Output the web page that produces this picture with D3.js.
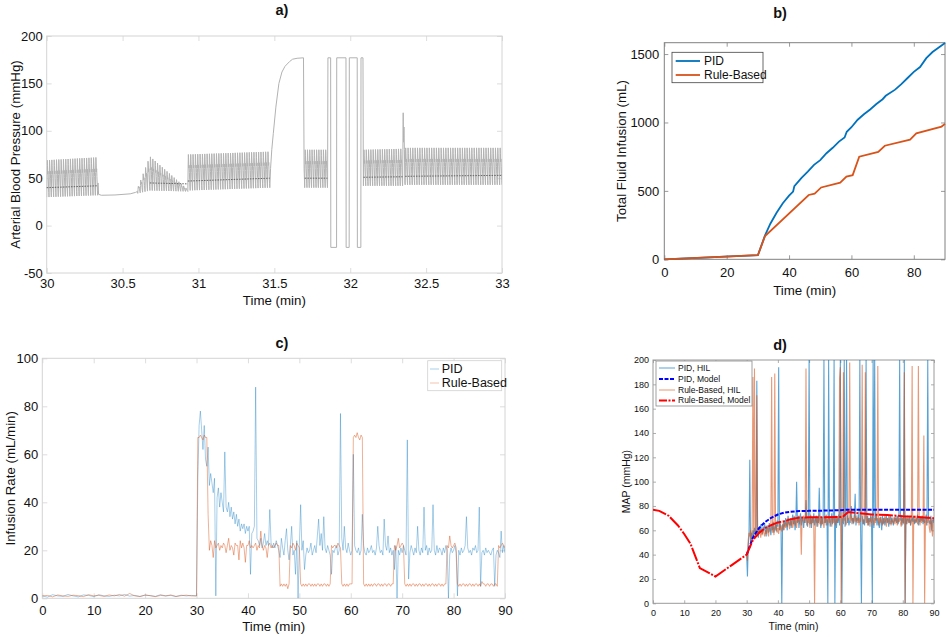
<!DOCTYPE html>
<html><head><meta charset="utf-8">
<script src="https://cdn.jsdelivr.net/npm/d3@7"></script>
<style>
body{margin:0;background:#fff;}
svg text{font-family:"Liberation Sans",Arial,Helvetica,sans-serif;}
</style></head><body>
<svg id="c" width="948" height="637"></svg>
<script>
// ---------------- Panel a: arterial blood pressure (30-33 min) ----------------
const abpXTicks=[30,30.5,31,31.5,32,32.5,33];
const abpYTicks=[-50,0,50,100,150,200];
// pulsatile segments: envelope of systolic / diastolic pressure and mean
const abpSegStart=[30.000,30.600,30.680,30.930,31.700,32.087,32.362];
const abpSegEnd  =[30.336,30.680,30.930,31.470,31.850,32.345,33.000];
const abpSysStart=[69,40,73,75,80,80,82];
const abpSysEnd  =[72,73,38,78,80,81,82];
const abpDiaStart=[30,34,37,37,40,42,43];
const abpDiaEnd  =[32,37,36,40,40,42,43];
const abpMeanStart=[40,null,45,47,50,51,52];
const abpMeanEnd  =[42,null,44,50,50,51.5,53];
const pulseShape=[0,0.6,1,0.85,0.62,0.7,0.5,0.3,0.12,0];
const beatMin=1/64;
// non-pulsatile pieces
const abpFallT=[30.338,30.342,30.36,30.45,30.55,30.585,30.598];
const abpFallV=[45,33,32,32.3,33.5,35,36];
const abpRiseT=[31.475,31.483,31.493,31.51,31.53,31.55,31.57,31.6,31.62,31.65,31.692,31.696];
const abpRiseV=[60,80,97,125,150,162,168,173,175.5,176.5,177,60];
const abpSquareT=[31.851,31.853,31.871,31.872,31.910,31.911,31.972,31.973,31.993,31.994,32.046,32.047,32.070,32.071,32.084,32.086];
const abpSquareV=[50,177,177,-23,-23,177,177,-23,-23,177,177,-23,-23,177,177,60];
const abpSpikeT=[32.347,32.349,32.351,32.354,32.357,32.36];
const abpSpikeV=[80,119,88,104,80,45];

// ---------------- Panel b: total fluid infusion ----------------
const cumXTicks=[0,20,40,60,80];
const cumYTicks=[0,500,1000,1500];
const pidCumT=[0,30,32.3,34,36,38,40,41.3,41.7,44,46,48,50,52,54,56,57.8,58.5,60,62,64,66,68,70,71,74,76,78,80,82,84,86,88,90];
const pidCumV=[0,30,175,260,340,410,465,495,535,595,640,690,725,775,815,860,890,932,965,1020,1060,1095,1135,1170,1195,1240,1280,1325,1370,1405,1470,1515,1548,1580];
const ruleCumT=[0,30,32.3,46.3,48.2,50.3,56.4,58.4,60.4,62.5,68.6,70.7,78.8,80.8,88.9,90];
const ruleCumV=[0,30,170,470,480,525,560,605,615,750,785,830,875,920,970,990];

// ---------------- Panel c: infusion rate ----------------
const rateXTicks=[0,10,20,30,40,50,60,70,80,90];
const rateYTicks=[0,20,40,60,80,100];
const pidRatePre=[1,0.5,1.5,1,0.8,1.6,1,0.6,1.4,1.2,0.7,1.5,1,0.8,1.3,1,1.6,0.9,1.2,0.7,1.4,1.1,0.8,1.5,1,1.2,0.7,1.3,1,1.2];
const ruleRatePre=[1,1.2,0.6,1.4,1,0.8,1.3,1.1,0.7,1.5,1,1.2,0.8,1.4,1,1.6,0.9,2,1,0.8,1.3,1.1,0.7,1.2,1,1.4,0.8,1.1,1.3,1];
// from 30 min, every 0.25 min
const pidRatePost=[
1,50,72,78, 70,62,72,58, 55,63,47,52, 48,44,50,1, 42,46,38,44, 40,36,61,38, 36,40,34,38, 33,36,31,35, 30,33,28,31, 29,31,27,30,
28,30,10,27, 28,30,88,25, 24,22,25,21, 23,27,22,24, 22,37,23,21, 23,21,24,22, 20,17,25,21, 18,24,29,20, 16,22,30,18, 20,10,24,0,
22,39,20,24, 12,18,21,19, 20,23,18,20, 22,19,26,33, 22,27,20,34, 21,19,22,20, 18,10,20,19, 21,22,18,20, 77,25,20,30, 21,19,23,20,
18,20,60,22, 20,19,21,18, 20,35,22,19, 18,21,19,20, 22,19,20,18, 21,30,22,19, 20,18,33,22, 20,26,19,21, 18,20,12,22, 0,20,18,21,
19,22,20,18, 66,8,19,22, 20,18,21,19, 30,20,18,21, 19,38,20,22, 18,21,19,20, 39,20,18,22, 19,21,20,18, 21,19,22,20, 0,18,21,19,
20,22,19,1, 20,18,21,19, 20,22,34,21, 19,20,18,21, 20,22,19,20, 38,5,19,20, 18,21,19,20, 19,18,20,21, 5,18,20,19, 17,28,19,22, 19];
const ruleRatePost=[
1,67,67,68, 67,66,68,67, 67,35,20,24, 22,17,24,21, 22,23,20,22, 21,23,22,19, 22,25,20,22, 21,18,23,22, 22,16,24,21, 23,21,15,22,
22,24,21,22, 21,22,23,20, 22,21,28,22, 20,22,21,17, 22,23,21,22, 21,22,23,22, 22,5,6,5, 6,5,6,4, 6,22,21,23, 22,20,23,22,
21,6,5,6, 5,6,5,6, 6,5,6,5, 6,5,6,6, 5,6,5,6, 6,5,6,5, 6,22,21,22, 22,21,23,22, 21,6,5,6, 5,6,5,6,
6,6,67,68, 67,69,67,66, 68,67,6,5, 6,5,6,5, 6,5,6,6, 5,6,6,5, 6,5,6,6, 5,6,6,5, 6,6,22,20, 22,25,21,22,
23,22,6,5, 6,5,6,5, 6,6,5,6, 5,6,6,5, 6,5,6,6, 5,6,5,6, 6,5,6,5, 6,6,5,6, 5,6,6,22, 21,26,22,21,
22,23,21,6, 5,6,5,6, 6,5,6,5, 6,6,5,6, 5,6,6,5, 6,5,7,6, 6,5,6,6, 5,6,6,5, 6,6,5,22, 21,22,23,22, 21];

// ---------------- Panel d: MAP ----------------
const mapXTicks=[0,10,20,30,40,50,60,70,80,90];
const mapYTicks=[0,20,40,60,80,100,120,140,160,180,200];
// HIL traces from 30 min, every 0.25 min
const pidHil=[
40,22,48,55, 118,50,58,52, 60,55,62,58, 56,183,60,54, 62,58,65,60, 57,63,59,66, 60,55,64,62, 58,66,61,56, 64,60,67,58, 62,65,59,68,
63,194,60,66, 62,0,65,60, 68,63,70,65, 60,72,66,64, 70,62,68,73, 65,71,60,67, 100,66,72,62, 69,74,64,70, 68,62,71,66, 85,68,63,70,
200,65,72,62, 70,66,74,64, 68,72,63,70, 66,95,68,62, 71,65,70,200, 66,72,64,69, 0,200,70,63, 68,74,65,70, 200,0,72,62, 70,66,73,64,
200,68,0,70, 65,200,63,72, 200,66,70,64, 68,73,80,65, 70,66,72,90, 64,70,68,73, 66,200,62,0, 72,65,69,64, 70,200,66,72, 64,70,67,73,
65,0,200,62, 200,68,72,64, 70,66,62,71, 68,60,72,65, 70,64,68,72, 66,70,63,69, 72,65,70,67, 64,71,68,70, 66,72,65,69, 200,68,71,64,
70,66,200,0, 72,65,69,70, 66,71,64,68, 70,67,72,65, 69,66,70,73, 64,70,67,71, 68,72,65,70, 66,69,73,64, 200,70,67,65, 72,60,68,70, 66];
const ruleHil=[
40,35,52,58, 55,60,50,62, 186,56,193,54, 58,171,55,60, 57,62,54,60, 56,61,58,55, 60,57,63,58, 55,62,59,64, 186,58,62,56, 189,60,65,58,
62,57,66,60, 64,59,62,67, 60,66,62,68, 63,70,65,61, 68,64,70,62, 66,72,64,69, 62,70,67,72, 65,69,40,71, 68,72,66,70, 193,64,71,66,
70,62,73,65, 68,71,64,0, 70,66,72,63, 68,73,65,70, 64,71,67,62, 70,66,73,68, 64,72,66,70, 68,63,71,66, 70,67,64,72, 66,70,68,185,
194,0,72,66, 190,68,70,64, 66,72,68,70, 198,66,72,68, 70,65,73,67, 72,68,66,71, 64,70,67,73, 196,68,65,70, 190,66,72,64, 70,67,63,71,
66,72,68,64, 70,66,73,68, 195,64,70,66, 71,67,64,70, 66,72,68,63, 70,67,72,65, 68,64,71,67, 66,70,65,72, 68,64,71,67, 70,66,63,72,
68,65,190,0, 70,65,72,68, 66,71,64,69, 195,0,68,66, 72,67,70,65, 195,68,64,71, 66,70,67,138, 0,68,64,70, 66,72,62,58, 70,66,55,68, 68];
const pidModelT=[30,31,32,33,34,36,38,40,42,44,47,50,55,60,62,65,70,80,90];
const pidModelV=[40,47,54,58,62,67,70.5,73,74.5,75.3,75.8,76,76.2,76.5,77,77,77,77,77];
const ruleModelT=[0,2,5,8,10,12,15,20,25,30,31,32,33,34,36,38,40,42,44,47,50,55,60,61,62.5,66,70,75,80,85,90];
const ruleModelV=[77,76,72,64,57,49,29,22,31,40,46,52,55,58,62,64.5,66.5,67.5,69,70.5,70.7,70.7,71,71.5,75,74,73,72.5,71.6,71,70];

// ---------------- drawing ----------------
const FONT='"Liberation Sans", Arial, Helvetica, sans-serif';
const svg=d3.select('#c');
const defs=svg.append('defs');
const fmt=d=>String(d);

function clipFor(id,x,y){
  defs.append('clipPath').attr('id',id).append('rect')
    .attr('x',x.range()[0]).attr('y',y.range()[1])
    .attr('width',x.range()[1]-x.range()[0]).attr('height',y.range()[0]-y.range()[1]);
  return `url(#${id})`;
}

function axes(x,y,o){
  const g=svg.append('g');
  const [x0,x1]=x.range(),[y0,y1]=y.range();
  g.append('g').attr('transform',`translate(0,${y0})`)
    .call(d3.axisBottom(x).tickValues(o.xt).tickSizeInner(-o.tl).tickSizeOuter(0).tickPadding(o.xp).tickFormat(fmt));
  g.append('g').attr('transform',`translate(0,${y1})`)
    .call(d3.axisTop(x).tickValues(o.xt).tickSizeInner(-o.tl).tickSizeOuter(0).tickFormat(''));
  g.append('g').attr('transform',`translate(${x0},0)`)
    .call(d3.axisLeft(y).tickValues(o.yt).tickSizeInner(-o.tl).tickSizeOuter(0).tickPadding(o.yp).tickFormat(fmt));
  g.append('g').attr('transform',`translate(${x1},0)`)
    .call(d3.axisRight(y).tickValues(o.yt).tickSizeInner(-o.tl).tickSizeOuter(0).tickFormat(''));
  g.selectAll('.domain').remove();
  g.selectAll('.tick line').attr('stroke',o.box).attr('stroke-width',0.8);
  g.selectAll('.tick text').attr('fill','#111').style('font-size',o.fs+'px').style('font-family',FONT);
  g.append('rect').attr('x',x0).attr('y',y1).attr('width',x1-x0).attr('height',y0-y1)
    .attr('fill','none').attr('stroke',o.box).attr('stroke-width',1);
  svg.append('text').attr('x',(x0+x1)/2).attr('y',o.xly).attr('text-anchor','middle').attr('dy','0.35em')
    .style('font-size',o.lfs+'px').attr('fill','#111').text(o.xl);
  svg.append('text').attr('transform',`translate(${o.ylx},${(y0+y1)/2}) rotate(-90)`).attr('text-anchor','middle').attr('dy','0.35em')
    .style('font-size',o.lfs+'px').attr('fill','#111').text(o.yl);
  svg.append('text').attr('x',o.tx).attr('y',o.ty).attr('text-anchor','middle').attr('dy','0.35em')
    .style('font-size','14.5px').style('font-weight','bold').attr('fill','#111').text(o.title);
  return g;
}

// ===== Panel a =====
{
  const x=d3.scaleLinear().domain([30,33]).range([46.7,502]);
  const y=d3.scaleLinear().domain([-50,200]).range([273,36]);
  axes(x,y,{xt:abpXTicks,yt:abpYTicks,tl:5,xp:6,yp:4,fs:13,box:'#d4d4d4',xl:'Time (min)',xly:300,yl:'Arterial Blood Pressure (mmHg)',ylx:15,lfs:13.3,title:'a)',tx:282,ty:10});
  function beats(i){
    const s=abpSegStart[i],e=abpSegEnd[i],n=Math.max(1,Math.round((e-s)/beatMin)),d=(e-s)/n,m=pulseShape.length-1,pts=[];
    for(let k=0;k<n;k++)for(let j=0;j<m;j++){
      const t=s+(k+j/m)*d,f=(t-s)/(e-s);
      const sys=abpSysStart[i]+(abpSysEnd[i]-abpSysStart[i])*f;
      const dia=abpDiaStart[i]+(abpDiaEnd[i]-abpDiaStart[i])*f;
      pts.push([t,dia+pulseShape[j]*(sys-dia)]);
    }
    pts.push([e,abpDiaEnd[i]]);
    return pts;
  }
  const zip=(T,V)=>T.map((t,i)=>[t,V[i]]);
  const pts=[].concat(beats(0),zip(abpFallT,abpFallV),beats(1),beats(2),beats(3),zip(abpRiseT,abpRiseV),
    beats(4),zip(abpSquareT,abpSquareV),beats(5),zip(abpSpikeT,abpSpikeV),beats(6));
  const cp=clipFor('clipA',x,y);
  svg.append('path').attr('clip-path',cp).attr('d',d3.line().x(d=>x(d[0])).y(d=>y(d[1]))(pts))
    .attr('fill','none').attr('stroke','#b2b2b2').attr('stroke-width',1);
  abpSegStart.forEach((s,i)=>{
    if(abpMeanStart[i]==null)return;
    svg.append('line').attr('x1',x(s)).attr('x2',x(abpSegEnd[i])).attr('y1',y(abpMeanStart[i])).attr('y2',y(abpMeanEnd[i]))
      .attr('stroke','#666').attr('stroke-width',1).attr('stroke-dasharray','1.5,1.2');
  });
}

// ===== Panel b =====
{
  const x=d3.scaleLinear().domain([0,90]).range([664.3,945]);
  const y=d3.scaleLinear().domain([0,1583]).range([259.3,42.7]);
  axes(x,y,{xt:cumXTicks,yt:cumYTicks,tl:4,xp:8,yp:5,fs:13,box:'#808080',xl:'Time (min)',xly:290,yl:'Total Fluid Infusion (mL)',ylx:621.7,lfs:13.3,title:'b)',tx:780,ty:13});
  const line=d3.line().x(d=>x(d[0])).y(d=>y(d[1]));
  svg.append('path').attr('d',line(pidCumT.map((t,i)=>[t,pidCumV[i]]))).attr('fill','none').attr('stroke','#0072BD').attr('stroke-width',1.8);
  svg.append('path').attr('d',line(ruleCumT.map((t,i)=>[t,ruleCumV[i]]))).attr('fill','none').attr('stroke','#D95319').attr('stroke-width',1.8);
  const lg=svg.append('g');
  lg.append('rect').attr('x',672).attr('y',52.3).attr('width',91).attr('height',30.4).attr('fill','#fff').attr('stroke','#444').attr('stroke-width',0.8);
  [['PID','#0072BD',61],['Rule-Based','#D95319',75]].forEach(([t,c,yy])=>{
    lg.append('line').attr('x1',675.7).attr('x2',700).attr('y1',yy).attr('y2',yy).attr('stroke',c).attr('stroke-width',1.8);
    lg.append('text').attr('x',704).attr('y',yy).attr('dy','0.35em').style('font-size','12px').attr('fill','#111').text(t);
  });
}

// ===== Panel c =====
{
  const x=d3.scaleLinear().domain([0,90]).range([42.3,505]);
  const y=d3.scaleLinear().domain([0,100]).range([598.3,358.3]);
  axes(x,y,{xt:rateXTicks,yt:rateYTicks,tl:5,xp:7,yp:4,fs:13,box:'#d4d4d4',xl:'Time (min)',xly:626,yl:'Infusion Rate (mL/min)',ylx:10,lfs:13.3,title:'c)',tx:282,ty:343});
  const line=d3.line().x(d=>x(d[0])).y(d=>y(d[1]));
  const series=(pre,post)=>pre.map((v,i)=>[i,v]).concat(post.map((v,i)=>[30+i*0.25,v]));
  const cp=clipFor('clipC',x,y);
  svg.append('path').attr('clip-path',cp).attr('d',line(series(pidRatePre,pidRatePost))).attr('fill','none').attr('stroke','#0072BD').attr('stroke-opacity',0.35).attr('stroke-width',1);
  svg.append('path').attr('clip-path',cp).attr('d',line(series(ruleRatePre,ruleRatePost))).attr('fill','none').attr('stroke','#D95319').attr('stroke-opacity',0.45).attr('stroke-width',1);
  const lg=svg.append('g');
  lg.append('rect').attr('x',427.7).attr('y',360.7).attr('width',74).attr('height',30).attr('fill','#fff').attr('stroke','#d0d0d0').attr('stroke-width',0.8);
  [['PID','#0072BD',369],['Rule-Based','#D95319',383]].forEach(([t,c,yy])=>{
    lg.append('line').attr('x1',430).attr('x2',439).attr('y1',yy).attr('y2',yy).attr('stroke',c).attr('stroke-opacity',0.35).attr('stroke-width',1);
    lg.append('text').attr('x',441.7).attr('y',yy).attr('dy','0.35em').style('font-size','12.5px').attr('fill','#111').text(t);
  });
}

// ===== Panel d =====
{
  const x=d3.scaleLinear().domain([0,90]).range([653,934]);
  const y=d3.scaleLinear().domain([0,200]).range([603.3,360]);
  axes(x,y,{xt:mapXTicks,yt:mapYTicks,tl:3,xp:6,yp:4,fs:9,box:'#9a9a9a',xl:'Time (min)',xly:626,yl:'MAP (mmHg)',ylx:626,lfs:10.5,title:'d)',tx:780,ty:345});
  const line=d3.line().x(d=>x(d[0])).y(d=>y(d[1]));
  const hil=v=>v.map((d,i)=>[30+i*0.25,d]);
  const cp=clipFor('clipD',x,y);
  svg.append('path').attr('clip-path',cp).attr('d',line(hil(pidHil))).attr('fill','none').attr('stroke','#0072BD').attr('stroke-opacity',0.65).attr('stroke-width',1.1);
  svg.append('path').attr('clip-path',cp).attr('d',line(hil(ruleHil))).attr('fill','none').attr('stroke','#D95319').attr('stroke-opacity',0.6).attr('stroke-width',1.1);
  svg.append('path').attr('clip-path',cp).attr('d',line(pidModelT.map((t,i)=>[t,pidModelV[i]]))).attr('fill','none').attr('stroke','#0000FF').attr('stroke-width',2).attr('stroke-dasharray','4,1.5');
  svg.append('path').attr('clip-path',cp).attr('d',line(ruleModelT.map((t,i)=>[t,ruleModelV[i]]))).attr('fill','none').attr('stroke','#FF0000').attr('stroke-width',2).attr('stroke-dasharray','14,1.5,2,1.5');
  const lg=svg.append('g');
  lg.append('rect').attr('x',656).attr('y',361).attr('width',96).attr('height',45).attr('fill','#fff').attr('stroke','#8a8a8a').attr('stroke-width',0.8);
  const items=[['PID, HIL','#0072BD',0.65,1,null],['PID, Model','#0000FF',1,2,'4,1.5'],['Rule-Based, HIL','#D95319',0.6,1,null],['Rule-Based, Model','#FF0000',1,2,'8,1.5,2,1.5']];
  const rows=[368,379,390,400.5];
  items.forEach(([t,c,op,w,da],i)=>{
    const l=lg.append('line').attr('x1',659).attr('x2',675).attr('y1',rows[i]).attr('y2',rows[i]).attr('stroke',c).attr('stroke-opacity',op).attr('stroke-width',w);
    if(da)l.attr('stroke-dasharray',da);
    lg.append('text').attr('x',678).attr('y',rows[i]).attr('dy','0.35em').style('font-size','8.5px').attr('fill','#111').text(t);
  });
}
</script></body></html>
